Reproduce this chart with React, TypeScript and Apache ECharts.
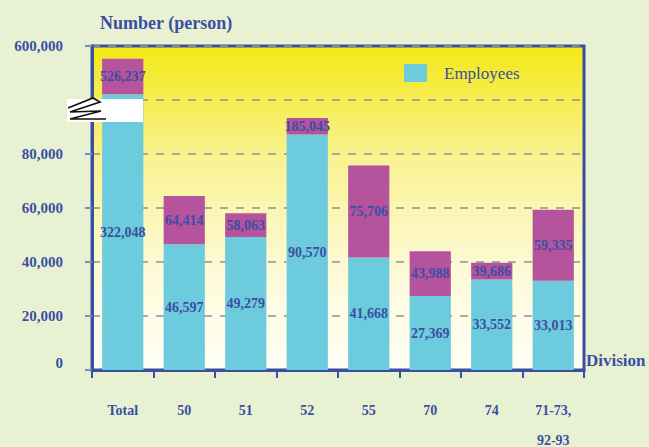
import React, { useEffect, useRef } from "react";
import * as echarts from "echarts";

const categories = ["Total", "50", "51", "52", "55", "70", "74", "71-73,\n92-93"];
const employees = [322048, 46597, 49279, 90570, 41668, 27369, 33552, 33013];
const totals = [526237, 64414, 58063, 185045, 75706, 43988, 39686, 59335];
const yTickLabels = ["0", "20,000", "40,000", "60,000", "80,000", "", "600,000"];

// broken axis: linear up to BREAK_AT, compressed above so that TOP_REAL sits at TOP_DISPLAY
const BREAK_AT = 87000;
const TOP_REAL = 600000;
const TOP_DISPLAY = 120000;
const K = (TOP_DISPLAY - BREAK_AT) / (TOP_REAL - BREAK_AT);
const toDisplay = (v: number) => (v <= BREAK_AT ? v : BREAK_AT + (v - BREAK_AT) * K);

const BLUE = "#3b4fa2";
const FONT = "'Liberation Serif', 'Times New Roman', serif";
const fmt = (v: number) => v.toLocaleString("en-US");

export default function App() {
  const ref = useRef<HTMLDivElement>(null);
  useEffect(() => {
    if (!ref.current) return;
    document.body.style.margin = "0";
    const chart = echarts.init(ref.current, null, { renderer: "svg" });
    const empDisplay = employees.map(toDisplay);
    const restDisplay = totals.map((t, i) => toDisplay(t) - toDisplay(employees[i]));
    chart.setOption({
      animation: false,
      backgroundColor: "#e8f2d3",
      textStyle: { fontFamily: FONT },
      grid: {
        left: 92,
        right: 65,
        top: 46,
        bottom: 77,
        outerBoundsMode: "none",
        containLabel: false,
        show: true,
        borderColor: BLUE,
        borderWidth: 3,
        backgroundColor: new echarts.graphic.LinearGradient(0, 0, 0, 1, [
          { offset: 0, color: "#f4e816" },
          { offset: 0.35, color: "#f9f293" },
          { offset: 0.7, color: "#fdfad8" },
          { offset: 1, color: "#fffff6" },
        ]),
      },
      legend: {
        data: ["Employees"],
        left: 399,
        top: 59,
        itemWidth: 23,
        itemHeight: 18,
        icon: "rect",
        textStyle: {
          color: BLUE,
          fontFamily: FONT,
          fontSize: 17,
          padding: [0, 0, 0, 12],
        },
      },
      xAxis: {
        type: "category",
        data: categories,
        axisLine: { lineStyle: { color: BLUE, width: 3 } },
        axisTick: { show: true, length: 8, lineStyle: { color: BLUE, width: 2 } },
        axisLabel: {
          color: BLUE,
          fontWeight: "bold",
          fontSize: 14,
          fontFamily: FONT,
          margin: 25,
          lineHeight: 30,
          interval: 0,
        },
      },
      yAxis: {
        type: "value",
        min: 0,
        max: TOP_DISPLAY,
        interval: 20000,
        axisLine: { show: true, lineStyle: { color: BLUE, width: 3 } },
        axisTick: { show: true, length: 7, lineStyle: { color: "#7f8dc2", width: 2 } },
        splitLine: {
          show: true,
          lineStyle: { color: "#8c919c", width: 1.5, type: [8, 8] },
        },
        axisLabel: {
          color: BLUE,
          fontWeight: "bold",
          fontSize: 15,
          fontFamily: FONT,
          margin: 29,
          formatter: (v: number) => {
            const label = yTickLabels[Math.round(v / 20000)] ?? "";
            return v === 0 ? "{z|" + label + "}" : label;
          },
          rich: {
            z: {
              color: BLUE,
              fontWeight: "bold",
              fontSize: 15,
              fontFamily: FONT,
              padding: [0, 0, 14, 0],
            },
          },
        },
      },
      series: [
        {
          name: "Employees",
          type: "bar",
          stack: "a",
          barWidth: "67%",
          data: empDisplay,
          itemStyle: { color: "#6ccbdd" },
          label: {
            show: true,
            position: "inside",
            color: BLUE,
            fontWeight: "bold",
            fontSize: 14,
            fontFamily: FONT,
            formatter: (p: any) => fmt(employees[p.dataIndex]),
          },
        },
        {
          name: "Total",
          type: "bar",
          stack: "a",
          barWidth: "67%",
          data: restDisplay,
          itemStyle: { color: "#b5539d" },
          label: {
            show: true,
            position: "inside",
            color: BLUE,
            fontWeight: "bold",
            fontSize: 14,
            fontFamily: FONT,
            formatter: (p: any) => fmt(totals[p.dataIndex]),
          },
        },
      ],
      graphic: [
        {
          type: "text",
          left: 100,
          top: 14,
          z: 100,
          style: {
            text: "Number (person)",
            fill: BLUE,
            font: "bold 18px " + FONT,
          },
        },
        {
          type: "text",
          left: 586,
          top: 352,
          z: 100,
          style: {
            text: "Division",
            fill: BLUE,
            font: "bold 17px " + FONT,
          },
        },
        {
          type: "rect",
          z: 100,
          shape: { x: 67, y: 99, width: 76, height: 23 },
          style: { fill: "#ffffff" },
        },
        {
          type: "polyline",
          z: 101,
          shape: {
            points: [
              [68, 108],
              [93, 98],
              [100, 102],
              [70, 112],
              [101, 111],
              [70, 119],
              [106, 119],
            ],
          },
          style: { stroke: "#111111", lineWidth: 1.6, fill: "none" },
        },
      ],
    });
    return () => chart.dispose();
  }, []);
  return (
    <div
      ref={ref}
      style={{ position: "fixed", left: 0, top: 0, width: 649, height: 447 }}
    />
  );
}
